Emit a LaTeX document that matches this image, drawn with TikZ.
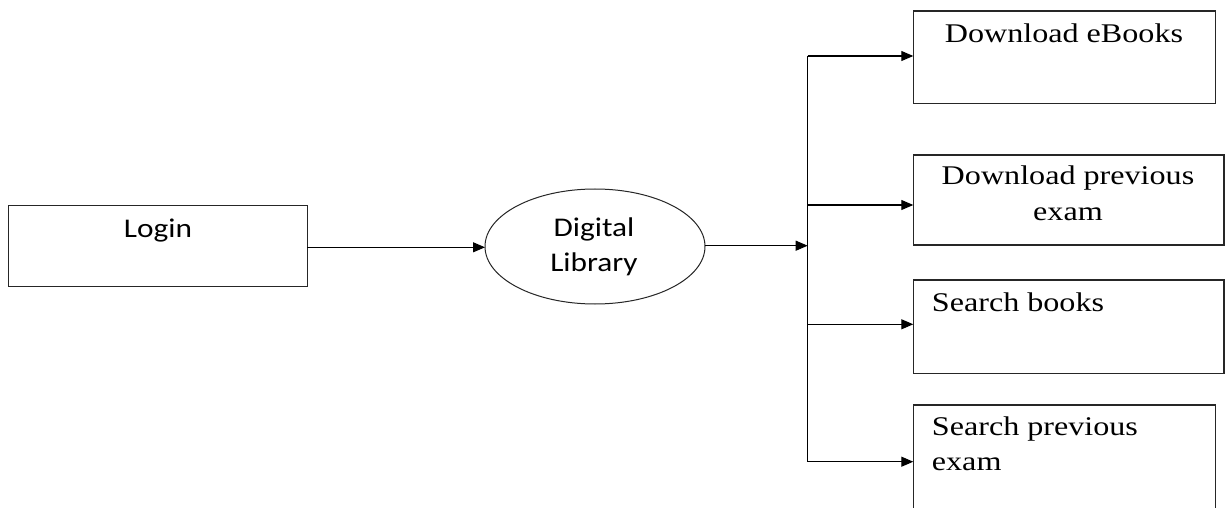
\documentclass[tikz,border=0pt]{standalone}
\usepackage{fontspec}
\usetikzlibrary{shapes.geometric,arrows.meta}
\newfontfamily\bodyserif[FakeStretch=1.19]{Liberation Serif}
\newfontfamily\bodysans[FakeStretch=1.16]{Carlito}
\begin{document}
\begin{tikzpicture}[x=1pt,y=-1pt,
  box/.style={draw=black!85,line width=1.1pt,inner sep=0pt,outer sep=0pt,anchor=north west},
  oval/.style={ellipse,draw=black!85,line width=1pt,inner sep=0pt,outer sep=0pt},
  serif/.style={font=\bodyserif\fontsize{27}{35}\selectfont,anchor=base,inner sep=0pt},
  sans/.style={font=\bodysans\fontsize{27}{35}\selectfont,anchor=base,inner sep=0pt},
  link/.style={draw=black,line width=1.1pt},
  arr/.style={link,-{Triangle[length=12pt,width=10pt]}}]
\useasboundingbox (0,0) rectangle (1227,508);

% start box and central process
\node[box,minimum width=298.6pt,minimum height=81pt] (login) at (8.7,205.7) {};
\node[sans] (tlogin) at (158,237.7) {Login};
\node[oval,minimum width=220pt,minimum height=115pt] (dl) at (595,246.5) {};
\node[sans] (tdl1) at (594,236.7) {Digital};
\node[sans] (tdl2) at (594,271.7) {Library};

% four service boxes
\node[box,minimum width=302.4pt,minimum height=92.3pt] (b1) at (913.3,11) {};
\node[serif] (t1) at (1064,42.7) {Download eBooks};
\node[box,minimum width=310.7pt,minimum height=90pt] (b2) at (913.3,155) {};
\node[serif] (t2a) at (1068,185) {Download previous};
\node[serif] (t2b) at (1068,220) {exam};
\node[box,minimum width=310.7pt,minimum height=93.3pt] (b3) at (913.3,280) {};
\node[serif,anchor=base west] (t3) at (931.7,311.7) {Search books};
\node[box,minimum width=302.4pt,minimum height=115pt] (b4) at (913.3,405) {};
\node[serif,anchor=base west] (t4a) at (931.7,435) {Search previous};
\node[serif,anchor=base west] (t4b) at (931.7,470) {exam};

% trunk junctions
\coordinate (j1) at (807.7,56);
\coordinate (j2) at (807.7,205);
\coordinate (jm) at (807.7,245.7);
\coordinate (j3) at (807.7,324.3);
\coordinate (j4) at (807.7,461.7);

% connectors
\draw[arr] (login.east |- 0,247.3) -- (dl.west |- 0,247.3);
\draw[arr] (dl.east |- jm) -- (jm);
\draw[link] (j1) -- (j4);
\draw[arr] (j1) -- (b1.west |- j1);
\draw[arr] (j2) -- (b2.west |- j2);
\draw[arr] (j3) -- (b3.west |- j3);
\draw[arr] (j4) -- (b4.west |- j4);
\end{tikzpicture}
\end{document}
